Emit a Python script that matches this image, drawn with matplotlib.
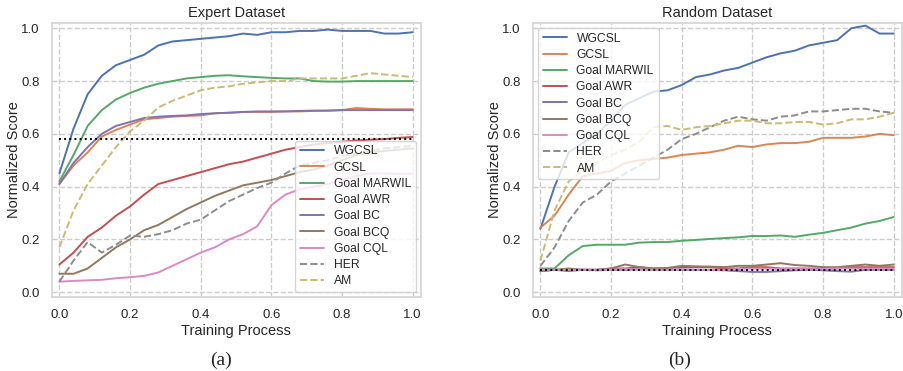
import numpy as np
import matplotlib
matplotlib.use('Agg')
import matplotlib.pyplot as plt
import seaborn as sns

# x positions (training progress)
x = np.linspace(0, 1, 26)

methods = ['WGCSL', 'GCSL', 'Goal MARWIL', 'Goal AWR', 'Goal BC',
           'Goal BCQ', 'Goal CQL', 'HER', 'AM']

# expert dataset
exp_wgcsl = [0.45, 0.62, 0.75, 0.82, 0.86, 0.88, 0.90, 0.935, 0.95, 0.955, 0.96, 0.965, 0.97,
             0.98, 0.975, 0.985, 0.985, 0.99, 0.99, 0.995, 0.99, 0.99, 0.99, 0.98, 0.98, 0.985]
exp_gcsl = [0.41, 0.48, 0.53, 0.59, 0.615, 0.635, 0.655, 0.66, 0.665, 0.668, 0.67, 0.678, 0.68,
            0.683, 0.683, 0.683, 0.685, 0.685, 0.687, 0.688, 0.69, 0.698, 0.695, 0.693, 0.693, 0.693]
exp_marwil = [0.42, 0.52, 0.63, 0.69, 0.73, 0.755, 0.775, 0.79, 0.80, 0.81, 0.815, 0.82, 0.822,
              0.818, 0.815, 0.812, 0.81, 0.81, 0.80, 0.798, 0.798, 0.80, 0.80, 0.80, 0.80, 0.80]
exp_awr = [0.105, 0.15, 0.21, 0.245, 0.29, 0.325, 0.37, 0.41, 0.425, 0.44, 0.455, 0.47, 0.485,
           0.495, 0.51, 0.525, 0.54, 0.55, 0.56, 0.565, 0.57, 0.575, 0.578, 0.58, 0.585, 0.588]
exp_bc = [0.41, 0.49, 0.55, 0.60, 0.63, 0.645, 0.66, 0.665, 0.668, 0.67, 0.675, 0.678, 0.68,
          0.683, 0.685, 0.685, 0.685, 0.687, 0.688, 0.688, 0.69, 0.69, 0.69, 0.69, 0.69, 0.69]
exp_bcq = [0.07, 0.07, 0.09, 0.13, 0.17, 0.20, 0.235, 0.255, 0.285, 0.315, 0.34, 0.365, 0.385,
           0.405, 0.415, 0.425, 0.44, 0.455, 0.465, 0.48, 0.50, 0.52, 0.53, 0.535, 0.54, 0.545]
exp_cql = [0.04, 0.043, 0.045, 0.047, 0.053, 0.057, 0.062, 0.075, 0.10, 0.125, 0.15, 0.17, 0.20,
           0.22, 0.25, 0.33, 0.37, 0.39, 0.40, 0.41, 0.425, 0.44, 0.45, 0.45, 0.448, 0.45]
exp_her = [0.04, 0.12, 0.19, 0.15, 0.18, 0.215, 0.21, 0.22, 0.235, 0.26, 0.275, 0.31, 0.345,
           0.37, 0.395, 0.415, 0.45, 0.48, 0.49, 0.50, 0.515, 0.525, 0.535, 0.545, 0.55, 0.555]
exp_am = [0.17, 0.31, 0.41, 0.48, 0.55, 0.61, 0.65, 0.70, 0.725, 0.745, 0.765, 0.775, 0.78,
          0.79, 0.795, 0.80, 0.80, 0.81, 0.81, 0.81, 0.81, 0.82, 0.83, 0.825, 0.82, 0.815]
exp_ref = 0.58

# random dataset
rnd_wgcsl = [0.24, 0.40, 0.53, 0.565, 0.60, 0.65, 0.71, 0.735, 0.76, 0.765, 0.785, 0.815, 0.825,
             0.84, 0.85, 0.87, 0.89, 0.905, 0.915, 0.935, 0.945, 0.955, 1.0, 1.01, 0.98, 0.98]
rnd_gcsl = [0.245, 0.29, 0.37, 0.44, 0.45, 0.46, 0.49, 0.50, 0.505, 0.51, 0.52, 0.525, 0.53,
            0.54, 0.555, 0.55, 0.56, 0.565, 0.565, 0.57, 0.585, 0.585, 0.585, 0.59, 0.60, 0.595]
rnd_marwil = [0.09, 0.09, 0.14, 0.175, 0.18, 0.18, 0.18, 0.188, 0.19, 0.19, 0.195, 0.198, 0.202,
              0.205, 0.208, 0.213, 0.213, 0.215, 0.21, 0.218, 0.225, 0.235, 0.245, 0.26, 0.27, 0.285]
rnd_awr = [0.08, 0.085, 0.085, 0.085, 0.085, 0.09, 0.09, 0.095, 0.09, 0.09, 0.095, 0.095, 0.095,
           0.09, 0.09, 0.095, 0.095, 0.09, 0.09, 0.09, 0.09, 0.09, 0.095, 0.095, 0.095, 0.095]
rnd_bc = [0.085, 0.085, 0.08, 0.085, 0.083, 0.085, 0.085, 0.087, 0.085, 0.085, 0.085, 0.085, 0.085,
          0.083, 0.08, 0.077, 0.077, 0.08, 0.083, 0.085, 0.083, 0.08, 0.078, 0.085, 0.085, 0.085]
rnd_bcq = [0.08, 0.085, 0.09, 0.085, 0.085, 0.09, 0.105, 0.095, 0.09, 0.092, 0.1, 0.098, 0.097,
           0.095, 0.1, 0.1, 0.105, 0.11, 0.103, 0.1, 0.095, 0.095, 0.1, 0.105, 0.1, 0.105]
rnd_cql = [0.085, 0.085, 0.085, 0.085, 0.085, 0.085, 0.088, 0.085, 0.085, 0.085, 0.088, 0.085, 0.085,
           0.085, 0.088, 0.09, 0.09, 0.088, 0.088, 0.087, 0.088, 0.09, 0.09, 0.09, 0.09, 0.09]
rnd_her = [0.10, 0.17, 0.27, 0.34, 0.37, 0.42, 0.45, 0.48, 0.51, 0.54, 0.58, 0.60, 0.625,
           0.65, 0.665, 0.655, 0.65, 0.665, 0.67, 0.685, 0.685, 0.69, 0.695, 0.695, 0.685, 0.68]
rnd_am = [0.12, 0.31, 0.42, 0.46, 0.49, 0.52, 0.54, 0.57, 0.625, 0.63, 0.615, 0.625, 0.63,
          0.64, 0.65, 0.65, 0.64, 0.64, 0.645, 0.645, 0.635, 0.64, 0.655, 0.655, 0.665, 0.68]
rnd_ref = 0.085

expert = [exp_wgcsl, exp_gcsl, exp_marwil, exp_awr, exp_bc, exp_bcq, exp_cql, exp_her, exp_am]
random_ = [rnd_wgcsl, rnd_gcsl, rnd_marwil, rnd_awr, rnd_bc, rnd_bcq, rnd_cql, rnd_her, rnd_am]

sns.set_theme(style='whitegrid', rc={'grid.linestyle': '--', 'axes.edgecolor': '#d5d5d5'})
plt.rcParams['font.family'] = ['Liberation Sans', 'DejaVu Sans']

colors = sns.color_palette('deep')
line_colors = colors[:7] + [(0.55, 0.55, 0.55), colors[8]]
styles = ['-'] * 7 + ['--', '--']

fig = plt.figure(figsize=(9.04, 3.71), dpi=100)
ax1 = fig.add_axes([0.0575, 0.1995, 0.408, 0.7385])
ax2 = fig.add_axes([0.5896, 0.1995, 0.408, 0.7385])


def draw(ax, series, ref, title, loc):
    for name, ys, c, ls in zip(methods, series, line_colors, styles):
        ax.plot(x, ys, color=c, linestyle=ls, lw=1.4, label=name)
    ax.hlines(ref, 0, 1, color='black', linestyle=':', lw=1.4)
    ax.set_xlim(-0.021, 1.023)
    ax.set_ylim(-0.018, 1.02)
    ax.set_xticks([0, 0.2, 0.4, 0.6, 0.8, 1.0])
    ax.set_yticks([0, 0.2, 0.4, 0.6, 0.8, 1.0])
    ax.tick_params(labelsize=9.5, pad=3)
    ax.set_xlabel('Training Process', fontsize=10.5, labelpad=2)
    ax.set_ylabel('Normalized Score', fontsize=10.5, labelpad=0)
    ax.set_title(title, fontsize=10.5, pad=4)
    ax.legend(loc=loc, fontsize=8.7, handlelength=2.0, labelspacing=0.35,
              borderpad=0.4, framealpha=0.8, borderaxespad=0.4)


draw(ax1, expert, exp_ref, 'Expert Dataset', 'lower right')
draw(ax2, random_, rnd_ref, 'Random Dataset', 'upper left')

fig.text(0.245, 0.03, '(a)', fontsize=14, family='Liberation Serif', ha='center', va='center')
fig.text(0.752, 0.03, '(b)', fontsize=14, family='Liberation Serif', ha='center', va='center')

fig.savefig('out.png', dpi=100)
